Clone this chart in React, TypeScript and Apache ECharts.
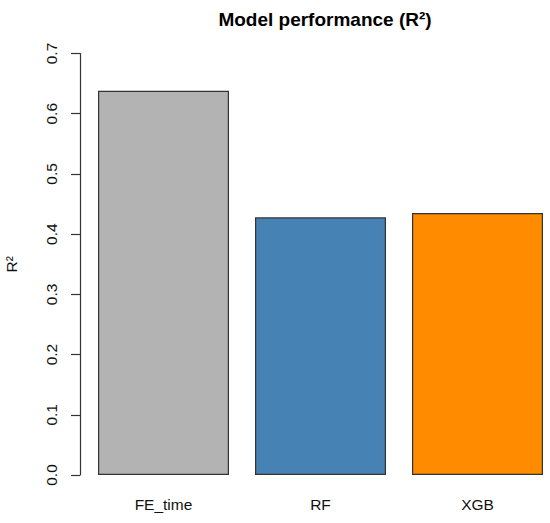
import React, { useEffect, useRef } from "react";
import * as echarts from "echarts";

const categories = ["FE_time", "RF", "XGB"];
const r2Values = [0.638, 0.428, 0.435];
const barColors = ["#B3B3B3", "#4682B4", "#FF8C00"];
const yTicks = { min: 0, max: 0.7, interval: 0.1 };

const FONT = "'Liberation Sans', Arial, Helvetica, sans-serif";

export default function App() {
  const ref = useRef<HTMLDivElement>(null);
  useEffect(() => {
    if (!ref.current) return;
    const chart = echarts.init(ref.current, null, { renderer: "svg" });
    chart.setOption({
      animation: false,
      backgroundColor: "#ffffff",
      textStyle: { fontFamily: FONT },
      title: {
        text: "Model performance (R²)",
        left: 320,
        top: 5,
        textAlign: "center",
        textStyle: { fontFamily: FONT, fontSize: 19, fontWeight: "bold", color: "#000" },
      },
      grid: {
        left: 85,
        width: 471,
        top: 53.5,
        bottom: 48,
        containLabel: false,
        outerBoundsMode: "none",
      },
      xAxis: {
        type: "category",
        data: categories,
        axisLine: { show: false },
        axisTick: { show: false },
        axisLabel: { margin: 21, fontSize: 15.5, color: "#111", fontFamily: FONT },
      },
      yAxis: {
        type: "value",
        min: yTicks.min,
        max: yTicks.max,
        interval: yTicks.interval,
        offset: 5,
        name: "R²",
        nameLocation: "middle",
        nameRotate: 90,
        nameGap: 61,
        nameTextStyle: { fontSize: 15.5, color: "#111", fontFamily: FONT },
        splitLine: { show: false },
        axisLine: { show: true, lineStyle: { color: "#333", width: 1.2 } },
        axisTick: { show: true, length: 9, lineStyle: { color: "#333", width: 1.2 } },
        axisLabel: {
          rotate: 90,
          margin: 21,
          fontSize: 15.5,
          color: "#111",
          fontFamily: FONT,
          formatter: (v: number) => v.toFixed(1),
        },
      },
      series: [
        {
          type: "bar",
          barWidth: 131,
          data: r2Values.map((v, i) => ({
            value: v,
            itemStyle: { color: barColors[i], borderColor: "#333", borderWidth: 1.2 },
          })),
        },
      ],
    });
    return () => chart.dispose();
  }, []);
  return (
    <div
      ref={ref}
      style={{ position: "absolute", left: 0, top: 0, width: 550, height: 523 }}
    />
  );
}
